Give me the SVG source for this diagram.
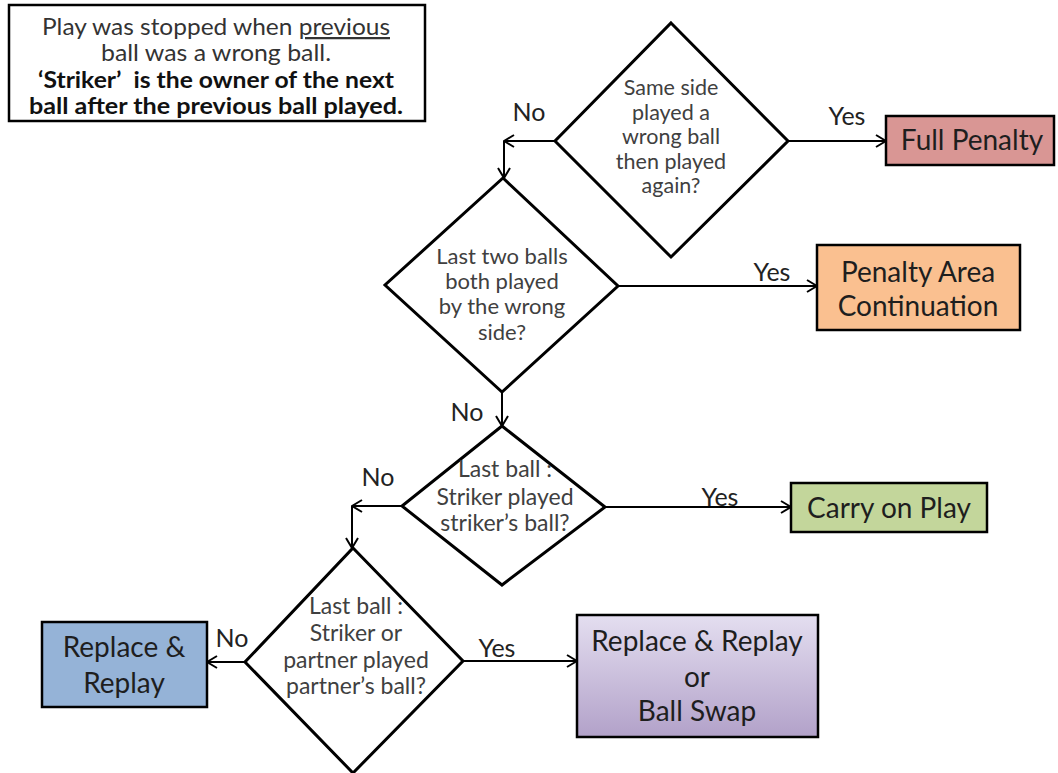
<svg xmlns="http://www.w3.org/2000/svg" width="1058" height="773" viewBox="0 0 1058 773">
<style>
text{font-family:Lato,"Open Sans","Liberation Sans",sans-serif;text-anchor:middle}
.dia{fill:#fff;stroke:#000;stroke-width:3;stroke-linejoin:miter}
.dt{font-size:23px;fill:#404040}
.ds{font-size:22px;fill:#404040}
.d1{font-size:21.5px;fill:#404040}
.box{stroke:#000;stroke-width:2.5}
.bt{font-size:28px;fill:#1e1e1e}
.lbl{font-size:25px;fill:#222}
.con{stroke:#000;stroke-width:2;fill:none}
.note{font-size:22.5px;fill:#333}
.b{fill:#111;font-weight:bold}
</style>
<defs>
<marker id="arr" viewBox="0 0 12 14" refX="11" refY="7" markerWidth="12" markerHeight="14" markerUnits="userSpaceOnUse" orient="auto">
<path d="M1,1 L11,7 L1,13" fill="none" stroke="#000" stroke-width="2"/>
</marker>
<linearGradient id="purp" x1="0" y1="0" x2="0" y2="1">
<stop offset="0" stop-color="#e4def0"/>
<stop offset="1" stop-color="#b2a1c9"/>
</linearGradient>
</defs>
<rect width="1058" height="773" fill="#fff"/>

<g id="note">
<rect x="9" y="5" width="416" height="116" fill="#fff" stroke="#000" stroke-width="2.5"/>
<text class="note" x="216" y="35" textLength="348" lengthAdjust="spacingAndGlyphs">Play was stopped when <tspan text-decoration="underline">previous</tspan></text>
<text class="note" x="216" y="61" textLength="230" lengthAdjust="spacingAndGlyphs">ball was a wrong ball.</text>
<text class="note b" x="216" y="87.5" textLength="356" lengthAdjust="spacingAndGlyphs">‘Striker’&#160; is the owner of the next</text>
<text class="note b" x="216" y="113.5" textLength="374" lengthAdjust="spacingAndGlyphs">ball after the previous ball played.</text>
</g>

<g id="connectors">
<line class="con" x1="555" y1="141" x2="504" y2="141" marker-end="url(#arr)"/>
<line class="con" x1="504" y1="141" x2="504" y2="178" marker-end="url(#arr)"/>
<line class="con" x1="788" y1="141" x2="886" y2="141" marker-end="url(#arr)"/>
<line class="con" x1="618" y1="286" x2="817" y2="286" marker-end="url(#arr)"/>
<line class="con" x1="502" y1="392" x2="502" y2="426" marker-end="url(#arr)"/>
<line class="con" x1="402" y1="506" x2="352" y2="506" marker-end="url(#arr)"/>
<line class="con" x1="352" y1="506" x2="352" y2="548" marker-end="url(#arr)"/>
<line class="con" x1="605" y1="507" x2="791" y2="507" marker-end="url(#arr)"/>
<line class="con" x1="245" y1="662" x2="207" y2="662" marker-end="url(#arr)"/>
<line class="con" x1="463" y1="661" x2="577" y2="661" marker-end="url(#arr)"/>
<text class="lbl" x="529" y="121">No</text>
<text class="lbl" x="847" y="125">Yes</text>
<text class="lbl" x="772" y="281">Yes</text>
<text class="lbl" x="467" y="421">No</text>
<text class="lbl" x="378" y="486">No</text>
<text class="lbl" x="720" y="506">Yes</text>
<text class="lbl" x="232" y="647">No</text>
<text class="lbl" x="497" y="657">Yes</text>
</g>

<g id="d1">
<polygon class="dia" points="671,23 788,141 671,257 555,141"/>
<text class="d1"><tspan x="671" y="95">Same side</tspan><tspan x="671" y="119.5">played a</tspan><tspan x="671" y="144">wrong ball</tspan><tspan x="671" y="168.5">then played</tspan><tspan x="671" y="193">again?</tspan></text>
</g>

<g id="d2">
<polygon class="dia" points="503,178 618,286 502,392 385,285"/>
<text class="ds"><tspan x="502" y="264">Last two balls</tspan><tspan x="502" y="289">both played</tspan><tspan x="502" y="314">by the wrong</tspan><tspan x="502" y="340">side?</tspan></text>
</g>

<g id="d3">
<polygon class="dia" points="502,426 605,507 502,585 402,506"/>
<text class="dt"><tspan x="505" y="477">Last ball :</tspan><tspan x="505" y="505">Striker played</tspan><tspan x="505" y="531">striker’s ball?</tspan></text>
</g>

<g id="d4">
<polygon class="dia" points="353,548 463,661 353,773 245,662"/>
<text class="dt"><tspan x="356" y="614">Last ball :</tspan><tspan x="356" y="641">Striker or</tspan><tspan x="356" y="668">partner played</tspan><tspan x="356" y="694">partner’s ball?</tspan></text>
</g>

<g id="full-penalty">
<rect class="box" x="886" y="116" width="168" height="49" fill="#d99694"/>
<text class="bt" x="972" y="150">Full Penalty</text>
</g>

<g id="penalty-area">
<rect class="box" x="817" y="245" width="203" height="85" fill="#fac090"/>
<text class="bt"><tspan x="918" y="282">Penalty Area</tspan><tspan x="918" y="316">Continuation</tspan></text>
</g>

<g id="carry-on">
<rect class="box" x="791" y="483" width="196" height="49" fill="#c3d69b"/>
<text class="bt" x="889" y="518">Carry on Play</text>
</g>

<g id="replace">
<rect class="box" x="42" y="622" width="165" height="85" fill="#95b3d7"/>
<text class="bt"><tspan x="124" y="657">Replace &amp;</tspan><tspan x="124" y="693">Replay</tspan></text>
</g>

<g id="replace-or-swap">
<rect class="box" x="577" y="615" width="241" height="122" fill="url(#purp)"/>
<text class="bt"><tspan x="697" y="651">Replace &amp; Replay</tspan><tspan x="697" y="687">or</tspan><tspan x="697" y="721">Ball Swap</tspan></text>
</g>
</svg>
